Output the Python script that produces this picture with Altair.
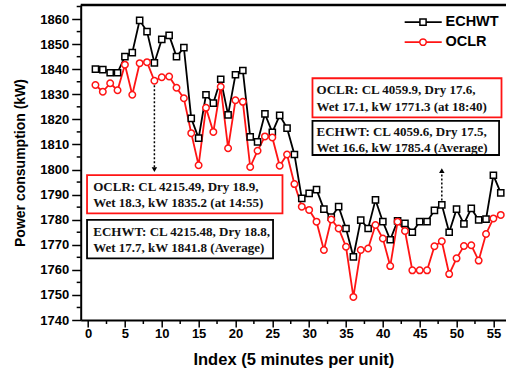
import altair as alt
import pandas as pd

# ---------------- data ----------------
index = list(range(1, 57))
echwt = [1840.0, 1839.8, 1838.6, 1838.6, 1845.0, 1846.6, 1859.5, 1855.0, 1842.5, 1851.9,
         1853.5, 1845.0, 1848.6, 1820.4, 1812.5, 1829.8, 1826.5, 1836.0, 1821.8, 1837.8,
         1839.5, 1813.0, 1811.0, 1822.2, 1814.8, 1821.6, 1816.5, 1806.0, 1788.5, 1790.5,
         1792.0, 1784.2, 1781.0, 1785.2, 1776.5, 1765.2, 1779.8, 1776.5, 1787.9, 1779.2,
         1772.0, 1779.5, 1778.5, 1775.0, 1779.2, 1779.2, 1783.7, 1785.9, 1775.0, 1784.2,
         1778.3, 1784.5, 1779.9, 1780.2, 1797.7, 1790.7]
oclr = [1833.7, 1831.0, 1834.4, 1831.6, 1841.8, 1829.8, 1842.4, 1842.8, 1835.4, 1836.8,
        1837.1, 1832.6, 1828.4, 1814.5, 1801.7, 1824.6, 1815.0, 1833.0, 1808.5, 1827.6,
        1827.0, 1801.0, 1807.5, 1813.2, 1812.8, 1801.5, 1806.0, 1794.2, 1785.2, 1783.9,
        1779.2, 1767.9, 1780.1, 1776.5, 1769.2, 1749.2, 1767.9, 1768.5, 1777.9, 1772.5,
        1761.5, 1779.2, 1775.5, 1759.8, 1759.8, 1759.8, 1769.4, 1771.4, 1758.3, 1764.6,
        1769.5, 1769.8, 1763.7, 1774.3, 1780.5, 1781.9]
series_names = ["ECHWT", "OCLR"]
colors = ["#000000", "#ff1414"]

x_major = [5 * i for i in range(12)]
x_minor = [2.5 + 5 * i for i in range(11)]
y_major = [1740 + 10 * i for i in range(13)]
y_minor = [1745 + 10 * i for i in range(13)]

# annotation boxes (data coordinates) and texts
box_x1 = [-0.14, -0.14, 30.45, 30.45]
box_x2 = [26.38, 25.1, 56.1, 55.77]
box_y1 = [1797.8, 1779.9, 1836.4, 1819.4]
box_y2 = [1782.5, 1764.6, 1820.8, 1805.8]
box_col = ["#ff1414", "#000000", "#ff1414", "#000000"]
ann_x = [0.7, 0.7, 0.7, 0.7, 31.0, 31.0, 31.0, 31.0]
ann_y = [1792.9, 1786.6, 1775.2, 1768.8, 1831.7, 1824.9, 1815.1, 1808.7]
ann_text = ["OCLR: CL 4215.49, Dry 18.9,", "Wet 18.3, kW 1835.2 (at 14:55)",
            "ECHWT: CL 4215.48, Dry 18.8,", "Wet 17.7, kW 1841.8 (Average)",
            "OCLR: CL 4059.9, Dry 17.6,", "Wet 17.1, kW 1771.3 (at 18:40)",
            "ECHWT: CL 4059.6, Dry 17.5,", "Wet 16.6, kW 1785.4 (Average)"]
arrow_x = [9, 48]
arrow_from = [1833.6, 1787.6]
arrow_to = [1800.0, 1799.6]
arrow_shape = ["triangle-down", "triangle-up"]

# legend entries (data coordinates)
leg_y = [1858.8, 1850.8]
leg_x1 = [42.96, 42.96]
leg_x2 = [47.99, 47.99]
leg_mx = [45.45, 45.45]
leg_tx = [48.5, 48.5]

XMIN, XMAX = -1, 56.71
YMIN, YMAX = 1740, 1865.6
W, H = 425.3, 315

# ---------------- frames ----------------
df = pd.DataFrame({
    "idx": index * 2,
    "value": echwt + oclr,
    "series": ["ECHWT"] * len(index) + ["OCLR"] * len(index),
})
boxes = pd.DataFrame({"x1": box_x1, "x2": box_x2, "y1": box_y1, "y2": box_y2, "c": box_col})
ann = pd.DataFrame({"x": ann_x, "y": ann_y, "t": ann_text})
arrows = pd.DataFrame({"x": arrow_x, "y1": arrow_from, "y2": arrow_to, "shape": arrow_shape})
legend = pd.DataFrame({"y": leg_y, "x1": leg_x1, "x2": leg_x2, "mx": leg_mx, "tx": leg_tx,
                       "series": series_names})

xs = alt.Scale(domain=[XMIN, XMAX], nice=False, zero=False)
ys = alt.Scale(domain=[YMIN, YMAX], nice=False, zero=False)
col = alt.Scale(domain=series_names, range=colors)

x_axis = alt.Axis(
    values=x_major, title="Index (5 minutes per unit)", format="d", tickSize=7,
    labelFont="Liberation Sans", labelFontSize=13, labelFontWeight="bold", labelColor="black",
    titleFont="Liberation Sans", titleFontSize=16.5, titleFontWeight="bold", titleColor="black",
    domainColor="black", domainWidth=2, tickColor="black", tickWidth=1.5,
    labelPadding=0, titlePadding=11, grid=False, labelOverlap=False, labelFlush=False,
)
y_axis = alt.Axis(
    values=y_major, title="Power consumption (kW)", format="d", tickSize=9,
    labelFont="Liberation Sans", labelFontSize=13, labelFontWeight="bold", labelColor="black",
    titleFont="Liberation Sans", titleFontSize=14, titleFontWeight="bold", titleColor="black",
    domainColor="black", domainWidth=2, tickColor="black", tickWidth=1.5,
    labelPadding=3, titlePadding=12, grid=False, labelOverlap=False, labelFlush=False,
)


def X(f):
    return alt.X(f, type="quantitative", scale=xs, axis=x_axis)


def Y(f):
    return alt.Y(f, type="quantitative", scale=ys, axis=y_axis)


base = alt.Chart(df)
lines = base.mark_line(strokeWidth=1.8).encode(
    x=X("idx"), y=Y("value"),
    color=alt.Color("series:N", scale=col, legend=None),
)
sq = base.transform_filter("datum.series == 'ECHWT'").mark_point(
    shape="square", size=38, filled=True, fill="white", stroke="black", strokeWidth=1.5, opacity=1
).encode(x=X("idx"), y=Y("value"))
ci = base.transform_filter("datum.series == 'OCLR'").mark_point(
    shape="circle", size=42, filled=True, fill="white", stroke=colors[1], strokeWidth=1.5, opacity=1
).encode(x=X("idx"), y=Y("value"))

# minor ticks (outside the plot, like the axis ticks)
xminor = alt.Chart(pd.DataFrame({"v": x_minor})).mark_rule(color="black", strokeWidth=1.5).encode(
    x=X("v"), y=alt.value(H), y2=alt.value(H + 4)
)
yminor = alt.Chart(pd.DataFrame({"v": y_minor})).mark_rule(color="black", strokeWidth=1.5).encode(
    y=Y("v"), x=alt.value(0), x2=alt.value(-4)
)

frame_top = alt.Chart(pd.DataFrame({"a": [XMIN], "b": [XMAX], "y": [YMAX]})).mark_rule(
    color="black", strokeWidth=2.5
).encode(x=X("a"), x2="b:Q", y=Y("y"))

rects = alt.Chart(boxes).mark_rect(fill="white", strokeWidth=1.8).encode(
    x=X("x1"), x2="x2:Q", y=Y("y1"), y2="y2:Q",
    stroke=alt.Stroke("c:N", scale=None),
)
texts = alt.Chart(ann).mark_text(
    align="left", baseline="middle", font="Liberation Serif", fontSize=13, fontWeight="bold",
    color="#111111"
).encode(x=X("x"), y=Y("y"), text="t:N")

arr_line = alt.Chart(arrows).mark_rule(color="black", strokeWidth=1.5, strokeDash=[2, 2]).encode(
    x=X("x"), y=Y("y1"), y2="y2:Q"
)
arr_head = alt.Chart(arrows).mark_point(filled=True, color="black", size=30, opacity=1).encode(
    x=X("x"), y=Y("y2"),
    shape=alt.Shape("shape:N", scale=None),
)

leg_line = alt.Chart(legend).mark_rule(strokeWidth=1.8).encode(
    x=X("x1"), x2="x2:Q", y=Y("y"),
    color=alt.Color("series:N", scale=col, legend=None),
)
leg_sq = alt.Chart(legend).transform_filter("datum.series == 'ECHWT'").mark_point(
    shape="square", size=38, filled=True, fill="white", stroke="black", strokeWidth=1.5, opacity=1
).encode(x=X("mx"), y=Y("y"))
leg_ci = alt.Chart(legend).transform_filter("datum.series == 'OCLR'").mark_point(
    shape="circle", size=42, filled=True, fill="white", stroke=colors[1], strokeWidth=1.5, opacity=1
).encode(x=X("mx"), y=Y("y"))
leg_txt = alt.Chart(legend).mark_text(
    align="left", baseline="middle", font="Liberation Sans", fontSize=14.5, fontWeight="bold",
    color="black"
).encode(x=X("tx"), y=Y("y"), text="series:N")

chart = alt.layer(
    lines, sq, ci, arr_line, arr_head, rects, texts,
    leg_line, leg_sq, leg_ci, leg_txt, xminor, yminor, frame_top
).properties(
    width=W, height=H,
    autosize=alt.AutoSizeParams(type="none"),
    padding={"left": 80.7, "top": 5, "right": 0, "bottom": 52},
    background="white",
).configure_view(stroke=None)

chart.save("out.html", embed_options={"renderer": "svg", "actions": False})
